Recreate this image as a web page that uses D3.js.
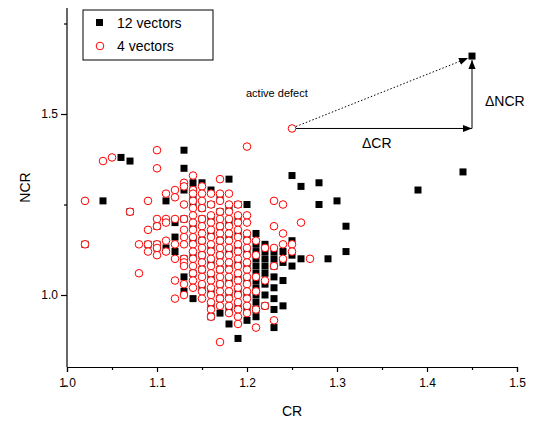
<!DOCTYPE html>
<html><head><meta charset="utf-8">
<script src="https://cdn.jsdelivr.net/npm/d3@7"></script>
<style>body{margin:0;background:#fff}text{font-family:Arial,"Liberation Sans",sans-serif}</style>
</head><body><div id="chart"></div>
<script>
// CR column -> list of NCR values
const blackCols = {
  1.02:[1.14], 1.04:[1.26], 1.06:[1.38], 1.07:[1.37,1.23], 1.09:[1.14], 1.10:[1.19,1.14,1.13],
  1.11:[1.26,1.13], 1.12:[1.20,1.16,1.12], 1.13:[1.40,1.35,1.29,1.21,1.10,1.05,1.01],
  1.14:[1.31,1.29,1.27,1.25,1.19,1.15,1.11,1.06,0.99], 1.15:[1.31,1.24,1.21,1.15,1.11,1.07,1.02],
  1.16:[1.29,1.25,1.21,1.17,1.13,1.09,1.05,1.01,0.97,0.94], 1.17:[1.27,1.23,1.19,1.15,1.11,1.07,1.03,0.99,0.95],
  1.18:[1.32,1.24,1.20,1.16,1.12,1.08,1.04,1.00,0.96,0.92], 1.19:[1.25,1.21,1.17,1.13,1.09,1.05,1.01,0.97,0.88],
  1.20:[1.25,1.16,1.12,1.08,1.04,1.00,0.96,0.93], 1.21:[1.17,1.14,1.12,1.10,1.08,1.06,1.04,1.02,1.00,0.98,0.96,0.94],
  1.22:[1.14,1.12,1.10,1.08,1.06,1.03,1.00,0.97], 1.23:[1.12,1.10,1.08,1.05,1.02,0.99,0.96,0.91],
  1.24:[1.12,1.09,1.04,0.97], 1.25:[1.33,1.15,1.11,1.08], 1.26:[1.30,1.10], 1.28:[1.31,1.25],
  1.29:[1.10], 1.30:[1.26], 1.31:[1.19,1.12], 1.39:[1.29], 1.44:[1.34], 1.45:[1.66]
};
const redCols = {
  1.02:[1.26,1.14], 1.04:[1.37], 1.05:[1.38], 1.07:[1.23], 1.08:[1.14,1.06], 1.09:[1.26,1.18,1.14,1.12],
  1.10:[1.40,1.35,1.21,1.19,1.14,1.13,1.11], 1.11:[1.28,1.21,1.20,1.15,1.12],
  1.12:[1.29,1.27,1.21,1.14,1.10,1.04,0.99], 1.13:[1.31,1.30,1.25,1.21,1.18,1.16,1.14,1.10,1.09,1.08,1.03,1.00],
  1.14:[1.33,1.29,1.28,1.26,1.24,1.22,1.20,1.18,1.16,1.14,1.12,1.10,1.08,1.06,1.04,1.02],
  1.15:[1.30,1.28,1.26,1.24,1.21,1.19,1.17,1.15,1.13,1.11,1.09,1.07,1.05,1.03,1.01,0.99],
  1.16:[1.28,1.25,1.22,1.20,1.18,1.16,1.14,1.12,1.10,1.08,1.06,1.04,1.02,1.00,0.98,0.96,0.94],
  1.17:[1.32,1.28,1.26,1.23,1.21,1.19,1.17,1.15,1.13,1.11,1.09,1.07,1.05,1.03,1.01,0.99,0.97,0.87],
  1.18:[1.28,1.25,1.23,1.21,1.19,1.17,1.15,1.13,1.11,1.09,1.07,1.05,1.03,1.01,0.99,0.97,0.95],
  1.19:[1.25,1.22,1.20,1.18,1.16,1.14,1.12,1.10,1.08,1.06,1.04,1.02,1.00,0.98,0.96,0.94,0.92],
  1.20:[1.41,1.22,1.20,1.17,1.15,1.13,1.11,1.09,1.07,1.05,1.03,1.01,0.99,0.97,0.95],
  1.21:[1.15,1.11,1.05,1.01,0.96,0.91],
  1.22:[1.13,1.04,0.97], 1.23:[1.26,1.19,1.13,1.08,0.93], 1.24:[1.25,1.17,1.14,1.10],
  1.25:[1.46,1.14,1.12], 1.26:[1.20], 1.27:[1.10]
};
const xTicks = [1.0,1.1,1.2,1.3,1.4,1.5];
const yTicks = [1.0,1.5];
const defectStart = [1.25,1.46], defectEnd = [1.45,1.66];

const flat = cols => Object.entries(cols).flatMap(([x, ys]) => ys.map(y => [+x, y]));
const blackPts = flat(blackCols), redPts = flat(redCols);

const W = 533, H = 423, m = {l:67, r:16, t:8, b:56};
const svg = d3.select('#chart').append('svg').attr('width', W).attr('height', H);
const x = d3.scaleLinear().domain([1.0,1.5]).range([m.l, W - m.r]);
const y = d3.scaleLinear().domain([1.0,1.5]).range([295,114]);

svg.append('g').attr('transform', `translate(0,${H - m.b})`)
  .call(d3.axisBottom(x).tickValues(xTicks).tickFormat(d3.format('.1f')).tickSize(5))
  .call(g => g.selectAll('text').attr('font-size', 12).attr('dy', '1em'));
svg.append('g').attr('transform', `translate(0,${H - m.b})`)
  .call(d3.axisBottom(x).tickValues(d3.range(1.05,1.5,0.1)).tickFormat('').tickSize(3))
  .call(g => g.select('.domain').remove());
svg.append('g').attr('transform', `translate(${m.l},0)`)
  .call(d3.axisLeft(y).tickValues(yTicks).tickFormat(d3.format('.1f')).tickSize(6))
  .call(g => g.select('.domain').attr('d', `M-0,${m.t}V${H - m.b}`))
  .call(g => g.selectAll('text').attr('font-size', 12));
svg.append('g').attr('transform', `translate(${m.l},0)`)
  .call(d3.axisLeft(y).tickValues([0.75,1.25,1.75]).tickFormat('').tickSize(3))
  .call(g => g.select('.domain').remove());
svg.selectAll('.domain, .tick line').attr('stroke', '#000').attr('stroke-width', 1.2);

svg.append('text').attr('x', (m.l + W - m.r) / 2).attr('y', 416).attr('text-anchor', 'middle').attr('font-size', 14).text('CR');
svg.append('text').attr('transform', `translate(30,${(m.t + H - m.b) / 2}) rotate(-90)`).attr('text-anchor', 'middle').attr('font-size', 14).text('NCR');

const s = 7;
svg.append('g').selectAll('rect').data(blackPts).join('rect')
  .attr('x', d => x(d[0]) - s/2).attr('y', d => y(d[1]) - s/2).attr('width', s).attr('height', s).attr('fill', '#000');
svg.append('g').selectAll('circle').data(redPts).join('circle')
  .attr('cx', d => x(d[0])).attr('cy', d => y(d[1])).attr('r', 3.8)
  .attr('fill', '#fff').attr('stroke', '#f00').attr('stroke-width', 1);

// annotations
const defs = svg.append('defs');
defs.append('marker').attr('id', 'ah').attr('viewBox', '0 0 10 10').attr('refX', 10).attr('refY', 5)
  .attr('markerWidth', 9).attr('markerHeight', 9).attr('markerUnits', 'userSpaceOnUse').attr('orient', 'auto')
  .append('path').attr('d', 'M0,1L10,5L0,9Z').attr('fill', '#000');
const [x0, y0] = [x(defectStart[0]), y(defectStart[1])], [x1, y1] = [x(defectEnd[0]), y(defectEnd[1])];
svg.append('line').attr('x1', x0 + 4).attr('y1', y0 - 2).attr('x2', x1 - 4).attr('y2', y1 + 2)
  .attr('stroke', '#000').attr('stroke-dasharray', '1.5,2').attr('marker-end', 'url(#ah)');
svg.append('line').attr('x1', x0 + 4).attr('y1', y0).attr('x2', x1).attr('y2', y0).attr('stroke', '#000').attr('marker-end', 'url(#ah)');
svg.append('line').attr('x1', x1).attr('y1', y0).attr('x2', x1).attr('y2', y1 + 4).attr('stroke', '#000').attr('marker-end', 'url(#ah)');
svg.append('text').attr('x', 246).attr('y', 97).attr('font-size', 11).text('active defect');
svg.append('text').attr('x', 362).attr('y', 148).attr('font-size', 14).text('\u0394CR');
svg.append('text').attr('x', 485).attr('y', 106).attr('font-size', 14).text('\u0394NCR');

// legend
const lg = svg.append('g');
lg.append('rect').attr('x', 83).attr('y', 10).attr('width', 130).attr('height', 50).attr('fill', 'none').attr('stroke', '#000');
lg.append('rect').attr('x', 96).attr('y', 19).attr('width', s).attr('height', s).attr('fill', '#000');
lg.append('circle').attr('cx', 100).attr('cy', 46).attr('r', 3.8).attr('fill', 'none').attr('stroke', '#f00');
lg.append('text').attr('x', 117).attr('y', 28).attr('font-size', 14).text('12 vectors');
lg.append('text').attr('x', 117).attr('y', 51).attr('font-size', 14).text('4 vectors');
</script></body></html>
